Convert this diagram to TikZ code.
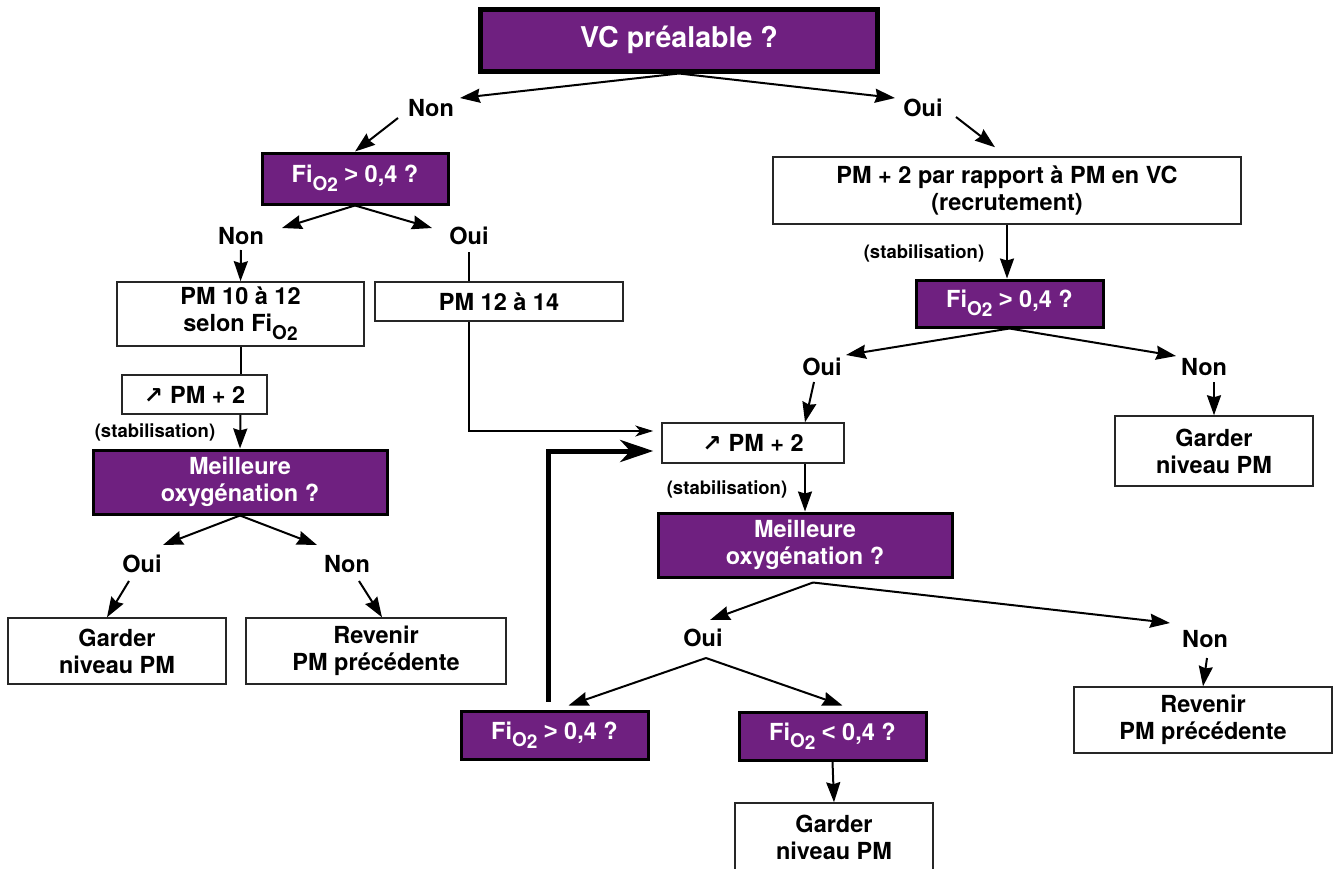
\documentclass[tikz,border=0pt]{standalone}
\usepackage{fontspec}
\setmainfont{TeX Gyre Heros}
\newfontfamily\arrowfont{DejaVu Sans}
\newfontfamily\signfont{Liberation Sans}
\usetikzlibrary{arrows.meta, calc}
\definecolor{vpurple}{RGB}{111,32,128}
\newcommand{\fio}{Fi\raisebox{-0.32em}{\fontsize{19}{19}\selectfont O\raisebox{-0.08em}{2}}}
\newcommand{\up}{{\arrowfont\fontsize{23}{23}\selectfont ↗}\hspace{0.3em}}
\newcommand{\gt}{{\signfont >}}
\newcommand{\lt}{{\signfont <}}
\tikzset{
    txt/.style={font=\fontsize{23.5}{27}\selectfont\bfseries, align=center, inner sep=0pt},
    ask/.style={txt, draw=black, line width=3pt, fill=vpurple, text=white},
    act/.style={txt, draw=black!85, line width=1.5pt, fill=white},
    lbl/.style={font=\fontsize{23.5}{27}\selectfont\bfseries, inner sep=0pt},
    stab/.style={font=\fontsize{18.5}{20}\selectfont\bfseries, inner sep=0pt},
    arrow/.style={-{Stealth[length=20pt, width=14pt, inset=2pt]}, line width=2pt},
    link/.style={line width=2pt},
    feed/.style={-{Stealth[length=18pt, width=11pt, inset=5pt]}, line width=2pt},
    backarrow/.style={-{Stealth[length=33pt, width=22pt, inset=10pt]}, line width=5pt},
}

\begin{document}
\begin{tikzpicture}[x=1pt, y=-1pt]
    \path[use as bounding box, fill=white] (0,0) rectangle (1339,868);
    % top question
    \node[ask, line width=5pt, font=\fontsize{28.6}{32}\selectfont\bfseries,
          minimum width=397pt, minimum height=62pt] (vc) at (679,40) {VC préalable ?};
    \node[lbl] (nonA) at (431,108) {Non};
    \node[lbl] (ouiA) at (923,108) {Oui};
    % left branch
    \node[ask, minimum width=186pt, minimum height=51pt] (fia) at (355,178.5) {\fio{} \gt{} 0,4 ?};
    \node[lbl] (nonB) at (241,236) {Non};
    \node[lbl] (ouiB) at (469,236) {Oui};
    \node[act, minimum width=247pt, minimum height=64pt] (pmdix) at (240.5,314) {PM 10 à 12\\selon \fio};
    \node[act, minimum width=248pt, minimum height=39pt] (pmdouze) at (499,301.5) {PM 12 à 14};
    \node[act, minimum width=145pt, minimum height=39pt] (upa) at (194.5,394.5) {\up PM + 2};
    \node[stab] (stabA) at (155,432) {(stabilisation)};
    \node[ask, minimum width=294pt, minimum height=64pt] (meila) at (240,482) {Meilleure\\oxygénation ?};
    \node[lbl] (ouiC) at (142,564) {Oui};
    \node[lbl] (nonC) at (347,564) {Non};
    \node[act, minimum width=218pt, minimum height=66pt] (gardA) at (117,651) {Garder\\niveau PM};
    \node[act, minimum width=260pt, minimum height=66pt] (revA) at (376,651) {Revenir\\PM précédente};
    % right branch
    \node[act, minimum width=468pt, minimum height=67pt] (pmva) at (1007,190.5) {PM + 2 par rapport à PM en VC\\(recrutement)};
    \node[stab] (stabB) at (924,253) {(stabilisation)};
    \node[ask, minimum width=187pt, minimum height=47pt] (fib) at (1009.5,303.5) {\fio{} \gt{} 0,4 ?};
    \node[lbl] (ouiD) at (822,367) {Oui};
    \node[lbl] (nonD) at (1204,367) {Non};
    \node[act, minimum width=198pt, minimum height=70pt] (gardB) at (1214,451) {Garder\\niveau PM};
    \node[act, minimum width=182pt, minimum height=40pt] (upb) at (753,443) {\up PM + 2};
    \node[stab] (stabC) at (727,489) {(stabilisation)};
    \node[ask, minimum width=294pt, minimum height=64pt] (meilb) at (805,545) {Meilleure\\oxygénation ?};
    \node[lbl] (ouiE) at (703,638) {Oui};
    \node[lbl] (nonE) at (1205,639) {Non};
    \node[act, minimum width=258pt, minimum height=66pt] (revB) at (1203,720) {Revenir\\PM précédente};
    \node[ask, minimum width=187pt, minimum height=48pt] (fic) at (554.5,735) {\fio{} \gt{} 0,4 ?};
    \node[ask, minimum width=187pt, minimum height=48pt] (fid) at (832.5,736) {\fio{} \lt{} 0,4 ?};
    \node[act, minimum width=198pt, minimum height=68pt] (gardC) at (834,837) {Garder\\niveau PM};
    \coordinate (inA) at ($(upb.west)+(-8,-12)$);
    \coordinate (inB) at ($(upb.west)+(-8,8)$);
    % connectors
    \draw[arrow] (vc.south) -- ($(nonA)+(29,-10)$);
    \draw[arrow] (vc.south) -- ($(ouiA)+(-28,-10)$);
    \draw[arrow] ($(nonA)+(-33,10)$) -- (fia.north);
    \draw[arrow] ($(ouiA)+(33,9)$) -- ($(pmva.north)+(-12,-9)$);
    \draw[arrow] (fia.south) -- ($(nonB)+(41,-8)$);
    \draw[arrow] (fia.south) -- ($(ouiB)+(-37,-8)$);
    \draw[arrow] ($(nonB)+(0,14)$) -- (pmdix.north);
    \draw[link] ($(ouiB)+(0,16)$) -- (ouiB |- pmdouze.north);
    \draw[feed] (ouiB |- pmdouze.south) |- (inA);
    \draw[link] (pmdix.south) -- (pmdix.south |- upa.north);
    \draw[arrow] (pmdix.south |- upa.south) -- (meila.north);
    \draw[arrow] (meila.south) -- ($(ouiC)+(21,-19)$);
    \draw[arrow] (meila.south) -- ($(nonC)+(-30,-19)$);
    \draw[arrow] ($(ouiC)+(-13,17)$) -- ($(gardA.north)+(-10,0)$);
    \draw[arrow] ($(nonC)+(12,17)$) -- ($(revA.north)+(6,0)$);
    \draw[arrow] (pmva.south) -- (pmva.south |- fib.north);
    \draw[arrow] (fib.south) -- ($(ouiD)+(24,-12)$);
    \draw[arrow] (fib.south) -- ($(nonD)+(-28,-11)$);
    \draw[arrow] ($(ouiD)+(-8,15)$) -- (upb.north -| meilb.north);
    \draw[arrow] ($(nonD)+(10,15)$) -- (gardB.north);
    \draw[arrow] (upb.south -| meilb.north) -- (meilb.north);
    \draw[arrow] ($(meilb.south)+(8,4)$) -- ($(ouiE)+(7,-18)$);
    \draw[arrow] ($(meilb.south)+(8,4)$) -- ($(nonE)+(-35,-16)$);
    \draw[arrow] ($(nonE)+(2,19)$) -- (revB.north);
    \draw[arrow] ($(ouiE)+(3,20)$) -- ($(fic.north)+(14,-4)$);
    \draw[arrow] ($(ouiE)+(3,20)$) -- ($(fid.north)+(10,-5)$);
    \draw[arrow] (fid.south) -- (gardC.north);
    \draw[backarrow] ($(fic.north)+(-6,-8)$) |- (inB);
\end{tikzpicture}
\end{document}
